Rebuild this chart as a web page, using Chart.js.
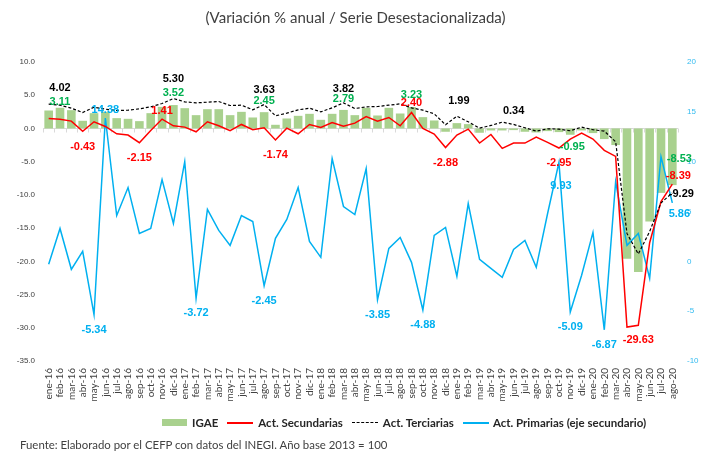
<!DOCTYPE html>
<html>
<head>
<meta charset="utf-8">
<script src="https://cdn.jsdelivr.net/npm/chart.js@4.4.0/dist/chart.umd.min.js"></script>
<style>
  body { margin: 0; background: #fff; }
  #wrap { position: relative; width: 711px; height: 451px; font-family: "Lato", sans-serif; color: #404040; }
  #titulo { position: absolute; top: 8px; left: 0; width: 711px; text-align: center; font-size: 15px; }
  #leyenda { position: absolute; top: 416px; left: 162px; display: flex; align-items: center; font-weight: bold; font-size: 11.5px; color: #262626; white-space: nowrap; }
  #leyenda .item { display: flex; align-items: center; margin-right: 9px; }
  #leyenda .caja { width: 25px; height: 7px; background: #a9d18e; margin-right: 5px; }
  #leyenda .linea { width: 26px; height: 0; border-top: 2px solid #ff0000; margin-right: 5px; }
  #leyenda .guion { width: 26px; height: 0; border-top: 1.5px dashed #000; margin-right: 5px; }
  #leyenda .azul { width: 26px; height: 0; border-top: 2px solid #00b0f0; margin-right: 4px; }
  #fuente { position: absolute; top: 438px; left: 20px; font-size: 11.4px; white-space: nowrap; }
  canvas { position: absolute; top: 0; left: 0; }
</style>
</head>
<body>
<div id="wrap">
  <canvas id="grafica" width="711" height="451"></canvas>
  <div id="titulo">(Variación % anual / Serie Desestacionalizada)</div>
  <div id="leyenda">
    <div class="item"><span class="caja"></span>IGAE</div>
    <div class="item"><span class="linea"></span>Act. Secundarias</div>
    <div class="item"><span class="guion"></span>Act. Terciarias</div>
    <div class="item"><span class="azul"></span>Act. Primarias (eje secundario)</div>
  </div>
  <div id="fuente">Fuente: Elaborado por el CEFP con datos del INEGI. Año base 2013 = 100</div>
</div>
<script>
const meses = [
  "ene-16","feb-16","mar-16","abr-16","may-16","jun-16","jul-16","ago-16","sep-16","oct-16","nov-16","dic-16",
  "ene-17","feb-17","mar-17","abr-17","may-17","jun-17","jul-17","ago-17","sep-17","oct-17","nov-17","dic-17",
  "ene-18","feb-18","mar-18","abr-18","may-18","jun-18","jul-18","ago-18","sep-18","oct-18","nov-18","dic-18",
  "ene-19","feb-19","mar-19","abr-19","may-19","jun-19","jul-19","ago-19","sep-19","oct-19","nov-19","dic-19",
  "ene-20","feb-20","mar-20","abr-20","may-20","jun-20","jul-20","ago-20"
];

const igae = [
  2.7, 3.11, 2.75, 1.15, 2.3, 2.5, 1.55, 1.45, 1.1, 2.3, 3.25, 3.52,
  3.05, 2.0, 2.9, 2.9, 2.0, 2.5, 1.65, 2.45, 0.55, 1.5, 1.9, 2.2,
  1.3, 2.2, 2.79, 2.0, 3.1, 1.95, 3.1, 2.25, 3.23, 1.7, 1.2, -0.5,
  0.8, 0.65, -0.65, -0.3, -0.3, -0.25, -0.5, -0.6, -0.4, -0.55, -0.95, -0.3,
  -0.7, -1.6, -2.5, -19.6, -21.6, -14.0, -9.7, -8.53
];

const secundarias = [
  1.5, 1.4, 1.1, -0.43, 1.0, 0.3, -0.8, -1.0, -2.15, -0.3, 1.41, 0.4,
  0.2, -0.5, 1.0, 0.4, -0.35, 0.6, -0.2, 0.1, -1.74, 0.05, -0.8, 0.6,
  0.15, 0.9, 0.35, 0.8, 1.8, 1.1, 1.65, 0.4, 2.40, 0.0, -0.85, -2.88,
  -1.0, -0.1, -2.2, -0.9, -3.0, -2.2, -2.2, -1.3, -2.1, -2.95, -1.6, -0.7,
  -1.6, -3.3, -4.2, -29.9, -29.63, -17.2, -11.0, -8.39
];

const terciarias = [
  3.65, 3.5, 3.05, 2.4, 3.2, 2.9, 2.7, 2.75, 2.95, 3.25, 3.75, 4.5,
  4.0, 3.85, 3.95, 4.05, 3.45, 3.5, 2.8, 3.6, 1.9, 2.3, 2.8, 3.05,
  2.5, 3.1, 3.85, 3.0, 3.25, 3.3, 3.5, 3.7, 3.1, 2.75, 2.2, 0.55,
  1.85, 1.0, 0.05, 0.45, 0.95, 0.6, 0.1, -0.4, -0.05, -0.1, -0.35, 0.2,
  -0.2, -0.4, -2.0, -15.8, -18.9, -15.5, -11.2, -9.7
];

const primarias = [
  -0.3, 3.3, -0.8, 1.0, -5.34, 14.38, 4.6, 7.4, 2.8, 3.3, 8.2, 3.8,
  10.0, -3.72, 5.2, 3.1, 1.6, 4.6, 4.0, -2.45, 2.3, 4.2, 7.4, 2.0,
  0.4, 10.3, 5.5, 4.7, 9.3, -3.85, 1.3, 2.4, -0.1, -4.88, 2.6, 3.4,
  -1.5, 5.8, 0.2, -0.7, -1.6, 1.2, 2.1, -0.6, 4.8, 9.93, -5.09, -1.4,
  2.9, -6.87, 8.0, 1.6, 2.8, -1.7, 10.5, 5.86
];

const ticksIzq = [10, 5, 0, -5, -10, -15, -20, -25, -30, -35];
const ticksDer = [20, 15, 10, 5, 0, -5, -10];

// etiquetas de datos: serie, mes, texto, desplazamiento en px
const etiquetas = [
  [3, 1, "4.02", 0, -17], [3, 11, "5.30", 0, -20], [3, 19, "3.63", 0, -15], [3, 26, "3.82", 0, -14],
  [3, 36, "1.99", 2, -15], [3, 41, "0.34", 0, -13], [3, 55, "-9.29", 9, 1],
  [0, 1, "3.11", 0, -6], [0, 11, "3.52", 0, -12], [0, 19, "2.45", 0, -11], [0, 26, "2.79", 0, -11],
  [0, 32, "3.23", 0, -12], [0, 46, "-0.95", 2, 12], [0, 55, "-8.53", 7, -26],
  [1, 3, "-0.43", 0, 16], [1, 8, "-2.15", 0, 15], [1, 10, "1.41", 0, -8], [1, 20, "-1.74", 0, 15],
  [1, 32, "2.40", 0, -10], [1, 35, "-2.88", 0, 15], [1, 45, "-2.95", 0, 15], [1, 52, "-29.63", 0, 15],
  [1, 55, "-8.39", 6, -8],
  [2, 5, "14.38", 0, -8], [2, 4, "-5.34", 0, 15], [2, 13, "-3.72", 0, 15], [2, 19, "-2.45", 0, 15],
  [2, 29, "-3.85", 0, 15], [2, 33, "-4.88", 0, 15], [2, 45, "9.93", 2, 24], [2, 46, "-5.09", 0, 15],
  [2, 49, "-6.87", 0, 15], [2, 55, "5.86", 7, 11]
];
const coloresEtiqueta = ["#00b050", "#ff0000", "#00b0f0", "#000000"];

const lineaCero = {
  id: 'lineaCero',
  beforeDatasetsDraw(chart) {
    const { ctx, chartArea, scales } = chart;
    const y = Math.round(scales.y.getPixelForValue(0)) + 0.5;
    ctx.save();
    ctx.strokeStyle = '#d9d9d9';
    ctx.lineWidth = 1;
    ctx.beginPath();
    ctx.moveTo(chartArea.left, y);
    ctx.lineTo(chartArea.right, y);
    for (let i = 0; i <= meses.length; i++) {
      const x = Math.round(scales.x.getPixelForValue(i - 0.5)) + 0.5;
      ctx.moveTo(x, y);
      ctx.lineTo(x, y + 4);
    }
    ctx.stroke();
    ctx.restore();
  }
};

const etiquetasDatos = {
  id: 'etiquetasDatos',
  afterDatasetsDraw(chart) {
    const ctx = chart.ctx;
    ctx.save();
    ctx.font = 'bold 11px "Liberation Sans", Arial, sans-serif';
    ctx.textAlign = 'center';
    ctx.textBaseline = 'middle';
    etiquetas.forEach(([serie, i, texto, dx, dy]) => {
      const el = chart.getDatasetMeta(serie).data[i];
      ctx.fillStyle = coloresEtiqueta[serie];
      ctx.fillText(texto, el.x + dx, el.y + dy);
    });
    ctx.restore();
  }
};

const ctx = document.getElementById('grafica');
new Chart(ctx, {
  type: 'bar',
  data: {
    labels: meses,
    datasets: [
      {
        label: 'IGAE',
        data: igae,
        backgroundColor: '#a9d18e',
        barPercentage: 0.76,
        categoryPercentage: 1,
        yAxisID: 'y',
        order: 4
      },
      {
        type: 'line',
        label: 'Act. Secundarias',
        data: secundarias,
        borderColor: '#ff0000',
        borderWidth: 1.5,
        pointRadius: 0,
        fill: false,
        yAxisID: 'y',
        order: 2
      },
      {
        type: 'line',
        label: 'Act. Primarias (eje secundario)',
        data: primarias,
        borderColor: '#00b0f0',
        borderWidth: 1.5,
        pointRadius: 0,
        fill: false,
        yAxisID: 'y2',
        order: 3
      },
      {
        type: 'line',
        label: 'Act. Terciarias',
        data: terciarias,
        borderColor: '#000000',
        borderWidth: 1.2,
        borderDash: [3, 2],
        pointRadius: 0,
        fill: false,
        yAxisID: 'y',
        order: 1
      }
    ]
  },
  options: {
    responsive: false,
    animation: false,
    layout: { padding: { top: 62, bottom: 40, left: 0, right: 0 } },
    plugins: {
      legend: { display: false },
      tooltip: { enabled: false }
    },
    scales: {
      x: {
        grid: { display: false, drawTicks: false },
        border: { display: false },
        ticks: {
          autoSkip: false,
          minRotation: 90,
          maxRotation: 90,
          padding: 7,
          color: '#404040',
          font: { family: 'Lato', size: 10 }
        },
        afterFit(s) { s.height = 50; }
      },
      y: {
        position: 'left',
        min: ticksIzq[ticksIzq.length - 1],
        max: ticksIzq[0],
        afterBuildTicks(s) { s.ticks = ticksIzq.map(v => ({ value: v })); },
        ticks: {
          callback: v => v.toFixed(1),
          padding: 8,
          color: '#404040',
          font: { family: 'Liberation Sans', size: 8 }
        },
        grid: { display: false, drawTicks: false },
        border: { display: false },
        afterFit(s) { s.width = 43; }
      },
      y2: {
        position: 'right',
        min: ticksDer[ticksDer.length - 1],
        max: ticksDer[0],
        afterBuildTicks(s) { s.ticks = ticksDer.map(v => ({ value: v })); },
        ticks: {
          padding: 9,
          color: '#33bbf0',
          font: { family: 'Liberation Sans', size: 8 }
        },
        grid: { display: false, drawTicks: false },
        border: { display: false },
        afterFit(s) { s.width = 33; }
      }
    }
  },
  plugins: [lineaCero, etiquetasDatos]
});
</script>
</body>
</html>
